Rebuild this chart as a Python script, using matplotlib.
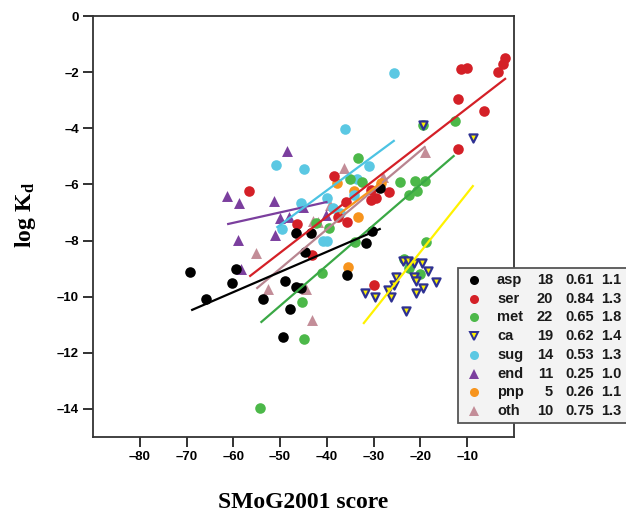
import matplotlib
matplotlib.use("Agg")
import matplotlib.pyplot as plt
from matplotlib.patches import Rectangle

plt.rcParams['mathtext.fontset'] = 'custom'
plt.rcParams['mathtext.rm'] = 'Liberation Serif:bold'
plt.rcParams['mathtext.it'] = 'Liberation Serif:bold'
plt.rcParams['mathtext.bf'] = 'Liberation Serif:bold'

# ---------------- data ----------------
names = ["asp", "ser", "met", "ca", "sug", "end", "pnp", "oth"]
counts = [18, 20, 22, 19, 14, 11, 5, 10]
r_vals = ["0.61", "0.84", "0.65", "0.62", "0.53", "0.25", "0.26", "0.75"]
rmse_vals = ["1.1", "1.3", "1.8", "1.4", "1.3", "1.0", "1.1", "1.3"]

asp_x = [-69.2, -65.8, -59.4, -60.2, -53.6, -48.9, -46.5, -45.6, -47.8, -49.3,
         -44.6, -46.5, -43.5, -28.7, -30.4, -31.7, -35.6]
asp_y = [-9.12, -10.08, -9.0, -9.5, -10.1, -9.44, -9.65, -9.69, -10.45, -11.43,
         -8.4, -7.72, -7.72, -6.13, -7.66, -8.09, -9.23]

ser_x = [-56.6, -46.3, -38.4, -36.0, -37.7, -35.6, -30.6, -30.6, -29.4, -26.8,
         -43.1, -30.0, -12.0, -6.4, -12.0, -11.4, -10.1, -3.4, -2.4, -1.9]
ser_y = [-6.23, -7.41, -5.7, -6.63, -7.16, -7.34, -6.2, -6.56, -6.48, -6.27,
         -8.51, -9.58, -2.96, -3.38, -4.74, -1.89, -1.85, -1.99, -1.71, -1.5]

met_x = [-54.2, -44.8, -45.4, -41.1, -39.6, -33.9, -33.4, -35.1, -32.4, -24.4,
         -21.2, -19.1, -22.5, -20.8, -12.6, -18.9, -19.5, -23.6, -22.5, -20.1, -42.4]
met_y = [-13.97, -11.5, -10.19, -9.16, -7.55, -8.05, -5.06, -5.81, -5.91, -5.9,
         -5.88, -5.88, -6.38, -6.23, -3.74, -8.05, -3.88, -8.66, -8.98, -9.19, -7.37]

ca_x = [-19.5, -8.8, -31.9, -29.8, -27.0, -26.4, -25.7, -25.3, -23.8, -22.7,
        -21.4, -19.7, -21.4, -21.0, -18.4, -19.5, -21.0, -16.7, -23.1]
ca_y = [-3.88, -4.35, -9.88, -10.0, -9.76, -10.0, -9.58, -9.29, -8.72, -8.72,
        -8.8, -8.8, -9.29, -9.44, -9.08, -9.69, -9.87, -9.48, -10.51]

sug_x = [-25.7, -36.2, -50.8, -45.0, -31.1, -33.6, -34.3, -39.9, -45.6, -37.1,
         -49.7, -40.9, -39.9, -38.6]
sug_y = [-2.03, -4.03, -5.31, -5.45, -5.34, -5.81, -6.38, -6.48, -6.66, -7.02,
         -7.59, -8.02, -8.02, -6.84]

end_x = [-48.6, -61.3, -58.7, -51.2, -45.2, -50.1, -48.2, -40.1, -51.0, -58.9, -58.3]
end_y = [-4.81, -6.41, -6.66, -6.59, -6.8, -7.2, -7.16, -7.09, -7.8, -7.98, -9.01]

pnp_x = [-37.9, -34.3, -33.4, -35.4, -28.5]
pnp_y = [-5.95, -6.23, -7.16, -8.94, -5.95]

oth_x = [-55.1, -52.5, -44.4, -43.1, -36.4, -27.9, -39.4, -42.9, -42.0, -19.1]
oth_y = [-8.44, -9.73, -9.73, -10.83, -5.42, -5.74, -6.73, -7.3, -7.34, -4.85]

# regression line endpoints (x0, x1, y0, y1)
line_asp = [-68.8, -28.7, -10.47, -7.59]
line_ser = [-56.4, -1.9, -9.26, -2.24]
line_met = [-54.0, -12.9, -10.9, -4.99]
line_ca = [-32.1, -8.8, -10.94, -6.06]
line_sug = [-50.6, -25.7, -7.52, -4.45]
line_end = [-61.1, -40.1, -7.41, -6.63]
line_pnp = [-37.1, -28.5, -7.02, -5.95]
line_oth = [-54.9, -19.1, -9.69, -4.67]

x_ticks = [-80, -70, -60, -50, -40, -30, -20, -10]
y_ticks = [0, -2, -4, -6, -8, -10, -12, -14]

# ---------------- styles ----------------
styles = {
    "asp": dict(marker="o", c="#000000", edge="#000000", line="#000000"),
    "ser": dict(marker="o", c="#d42027", edge="#d42027", line="#d42027"),
    "met": dict(marker="o", c="#4cb849", edge="#4cb849", line="#3aa845"),
    "ca":  dict(marker="v", c="#fff200", edge="#2e3192", line="#fff200"),
    "sug": dict(marker="o", c="#5bc8e3", edge="#5bc8e3", line="#4cc3e3"),
    "end": dict(marker="^", c="#7b3f9e", edge="#7b3f9e", line="#7b3f9e"),
    "pnp": dict(marker="o", c="#f7941d", edge="#f7941d", line="#f7941d"),
    "oth": dict(marker="^", c="#c38d98", edge="#c38d98", line="#b88590"),
}

series = {
    "asp": (asp_x, asp_y, line_asp),
    "ser": (ser_x, ser_y, line_ser),
    "met": (met_x, met_y, line_met),
    "ca": (ca_x, ca_y, line_ca),
    "sug": (sug_x, sug_y, line_sug),
    "end": (end_x, end_y, line_end),
    "pnp": (pnp_x, pnp_y, line_pnp),
    "oth": (oth_x, oth_y, line_oth),
}

W, H = 626, 515
fig = plt.figure(figsize=(W / 100, H / 100), dpi=100)
ax = fig.add_axes([93 / W, 1 - 437 / H, (514 - 93) / W, (437 - 16) / H])

draw_order = ["oth", "pnp", "end", "sug", "met", "ca", "ser", "asp"]
for nm in draw_order:
    xs, ys, ln = series[nm]
    st = styles[nm]
    if st["marker"] == "o":
        size, lw = 58, 0
    elif st["marker"] == "v":
        size, lw = 34, 1.6
    else:
        size, lw = 62, 0
    ax.scatter(xs, ys, s=size, marker=st["marker"], facecolor=st["c"],
               edgecolor=st["edge"], linewidths=lw, zorder=3)
for nm in draw_order:
    xs, ys, ln = series[nm]
    ax.plot([ln[0], ln[1]], [ln[2], ln[3]], color=styles[nm]["line"], lw=1.6, zorder=4)

ax.set_xlim(-90, 0)
ax.set_ylim(-15, 0)
ax.set_xticks(x_ticks)
ax.set_yticks(y_ticks)
ax.set_xticklabels([str(t).replace("-", "\u2013") for t in x_ticks],
                   fontfamily="Liberation Sans", fontweight="bold", fontsize=9.5)
ax.set_yticklabels([str(t).replace("-", "\u2013") for t in y_ticks],
                   fontfamily="Liberation Sans", fontweight="bold", fontsize=9.5)
ax.tick_params(direction="out", length=7, width=1.3, color="#222222", pad=3)
for sp in ax.spines.values():
    sp.set_linewidth(1.3)
    sp.set_color("#333333")

fig.text(303 / W, 1 - 502 / H, "SMoG2001 score", ha="center", va="center",
         fontfamily="Liberation Serif", fontweight="bold", fontsize=17)
fig.text(26 / W, 1 - 215 / H, r"$\mathrm{log\ K_d}$", ha="center", va="center",
         rotation=90, fontsize=17)

# ---------------- legend table ----------------
bx0, by0, bx1, by1 = 458, 268, 640, 423
fig.add_artist(Rectangle((bx0 / W, 1 - by1 / H), (bx1 - bx0) / W, (by1 - by0) / H,
                         transform=fig.transFigure, facecolor="#f3f3f3",
                         edgecolor="#555555", lw=1.3, zorder=10))
row0, dy = 280, 18.7
for i, nm in enumerate(names):
    yy = 1 - (row0 + i * dy) / H
    st = styles[nm]
    fig.add_artist(plt.Line2D([474 / W], [yy], marker=st["marker"],
                              markersize=(5.5 if st["marker"] == "v" else 6.5),
                              markerfacecolor=st["c"], markeredgecolor=st["edge"],
                              markeredgewidth=(1.4 if st["marker"] == "v" else 0),
                              linestyle="none", transform=fig.transFigure, zorder=11))
    kw = dict(va="center", fontfamily="Liberation Sans", fontweight="bold",
              fontsize=10.5, color="#1a1a1a", zorder=11)
    fig.text(497 / W, yy, nm, ha="left", **kw)
    fig.text(553 / W, yy, str(counts[i]), ha="right", **kw)
    fig.text(565 / W, yy, r_vals[i], ha="left", **kw)
    fig.text(601 / W, yy, rmse_vals[i], ha="left", **kw)

fig.savefig("out.png", dpi=100)
